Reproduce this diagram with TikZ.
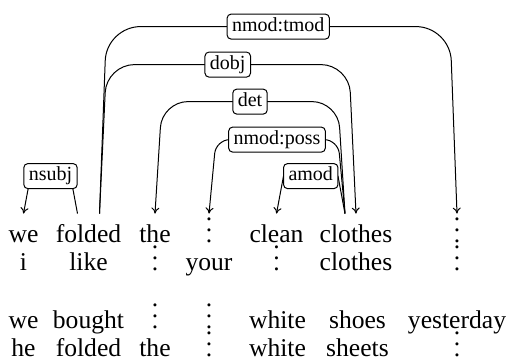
\documentclass[tikz,border=0pt]{standalone}
\usepackage{fontspec}
\setmainfont{Liberation Serif}
\usetikzlibrary{arrows.meta}
\newcommand{\vdts}{\vbox{\baselineskip=5.5pt\hbox{.}\hbox{.}\hbox{.}}}

\begin{document}
\begin{tikzpicture}[
		x=0.5pt, y=0.5pt,
		word/.style={anchor=base,inner xsep=0pt,inner ysep=4.5pt,text height=10pt,text depth=3pt,font=\rmfamily\fontsize{12.8}{15}\selectfont},
		dep/.style={draw,fill=white,rounded corners=2pt,inner xsep=2.5pt,inner ysep=1.65pt,text height=7pt,text depth=2.2pt,font=\rmfamily\fontsize{10}{12}\selectfont},
		deparc/.style={->,line width=0.5pt,rounded corners=#1},
		deparc/.default=14pt,
		>={To[length=3pt,width=4pt]}
	]
		\useasboundingbox (0,0) rectangle (510,-363);

		% first sentence, with its parse
		\node (we) [word] at (23.5,-243) {we};
		\node (folded) [word] at (88.5,-243) {folded};
		\node (the) [word] at (155,-243) {the};
		\node (yourdots) [word] at (209,-243) {\vdts};
		\node (clean) [word] at (276.5,-243) {clean};
		\node (clothes) [word] at (356,-243) {clothes};
		\node (yestdots) [word] at (457,-243) {\vdts};

		% aligned sentences
		\node (i) [word] at (23.5,-271) {i};
		\node (like) [word] at (88.5,-271) {like};
		\node (thedots) [word] at (155,-271) {\vdts};
		\node (your) [word] at (209,-271) {your};
		\node (cleandots) [word] at (276.5,-271) {\vdts};
		\node (clothesb) [word] at (356,-271) {clothes};
		\node (yestdotsb) [word] at (457,-271) {\vdts};

		\node (wec) [word] at (23.5,-329) {we};
		\node (bought) [word] at (88.5,-329) {bought};
		\node (thedotsc) [word] at (155,-329) {\vdts};
		\node (yourdotsc) [word] at (209,-329) {\vdts};
		\node (whitec) [word] at (277.5,-329) {white};
		\node (shoes) [word] at (357.5,-329) {shoes};
		\node (yesterday) [word] at (457,-329) {yesterday};

		\node (he) [word] at (23.5,-357) {he};
		\node (foldedd) [word] at (88.5,-357) {folded};
		\node (thed) [word] at (155,-357) {the};
		\node (yourdotsd) [word] at (209,-357) {\vdts};
		\node (whited) [word] at (277.5,-357) {white};
		\node (sheets) [word] at (357.5,-357) {sheets};
		\node (yestdotsd) [word] at (457,-357) {\vdts};

		% dependency edges
		\draw [deparc=17pt] ([xshift=5.5pt]folded.north) -- ++(3.5pt,93.5pt) -- node [dep] (ltmod) {nmod:tmod} ([xshift=-3.5pt,yshift=93.5pt]yestdots.north) -- (yestdots.north);
		\draw [deparc=14pt] ([xshift=5.5pt]folded.north) -- ++(3.5pt,74.5pt) -- node [dep] (ldobj) {dobj} ([xshift=-3.5pt,yshift=74.5pt]clothes.north) -- (clothes.north);
		\draw [deparc=13pt] ([xshift=-5.5pt]clothes.north) -- ++(-3.5pt,56pt) -- node [dep] (ldet) {det} ([xshift=3.5pt,yshift=56pt]the.north) -- (the.north);
		\draw [deparc=7pt] ([xshift=-5.5pt]clothes.north) -- ++(-3.5pt,37pt) -- node [dep] (lposs) {nmod:poss} ([xshift=3.5pt,yshift=37pt]yourdots.north) -- (yourdots.north);
		\draw [deparc,sharp corners] ([xshift=-5.5pt]clothes.north) -- ++(-3.5pt,18.75pt) -- node [dep] (lamod) {amod} ([xshift=3.5pt,yshift=18.75pt]clean.north) -- (clean.north);
		\draw [deparc,sharp corners] ([xshift=-5.5pt]folded.north) -- ++(-3.5pt,18.75pt) -- node [dep] (lnsubj) {nsubj} ([xshift=3.5pt,yshift=18.75pt]we.north) -- (we.north);
	\end{tikzpicture}
\end{document}
